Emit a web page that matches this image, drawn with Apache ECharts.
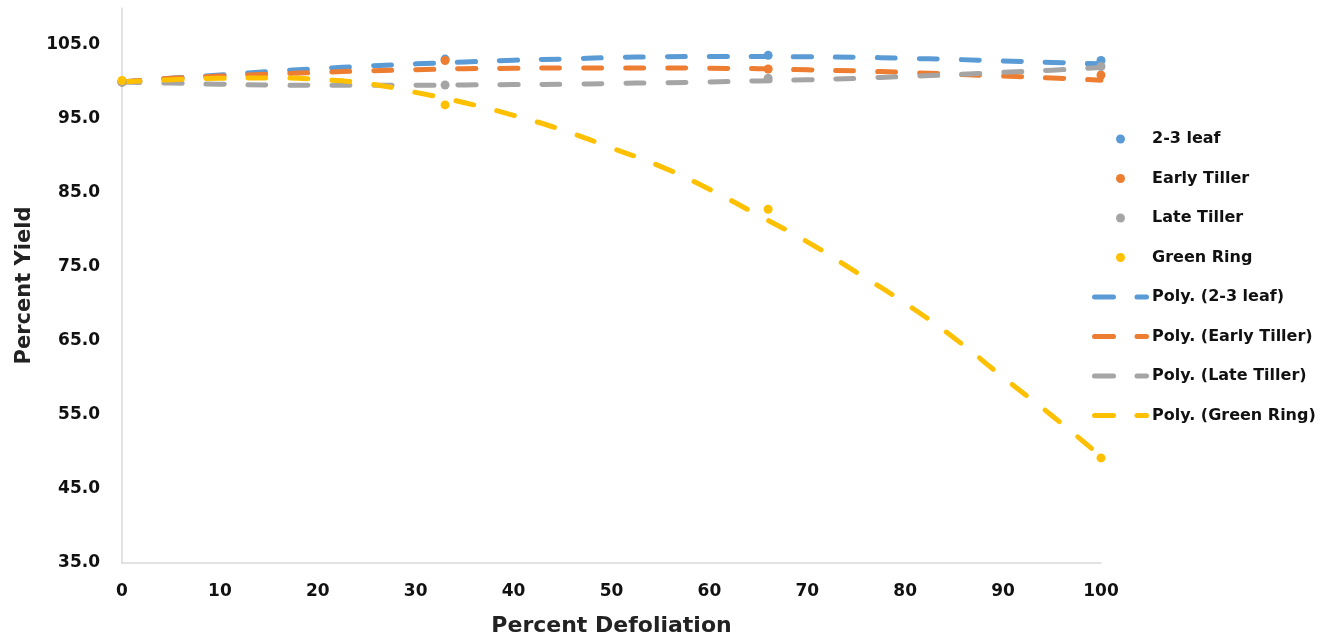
<!DOCTYPE html>
<html>
<head>
<meta charset="utf-8">
<script src="https://cdn.jsdelivr.net/npm/echarts@6/dist/echarts.min.js"></script>
<style>
html,body{margin:0;padding:0;background:#fff;}
#chart{width:1327px;height:641px;}
</style>
</head>
<body>
<div id="chart"></div>
<script>
// Observed data points (x = percent defoliation)
const pointX = [0, 33, 66, 100];
const leafPts = [100.0, 103.1, 103.6, 102.9];
const earlyPts = [100.0, 102.9, 101.75, 100.95];
const latePts = [100.0, 99.6, 100.5, 102.1];
const greenPts = [100.2, 96.9, 82.8, 49.2];

// Trendline values
const trendX = [0,5,10,15,20,25,30,35,40,45,50,55,60,65,70,75,80,85,90,95,100];
const leafTrend = [100.0,100.5,100.95,101.4,101.8,102.15,102.45,102.7,102.95,103.1,103.3,103.4,103.45,103.45,103.4,103.35,103.2,103.05,102.85,102.65,102.45];
const earlyTrend = [100.0,100.5,100.8,101.05,101.3,101.5,101.65,101.8,101.85,101.9,101.9,101.9,101.85,101.8,101.65,101.5,101.3,101.05,100.8,100.55,100.25];
const lateTrend = [100.0,99.85,99.7,99.6,99.55,99.55,99.55,99.6,99.65,99.7,99.8,99.9,100.0,100.15,100.3,100.5,100.75,101.0,101.3,101.6,101.95];
const greenTrend = [100.0,100.3,100.5,100.55,100.35,99.8,98.6,97.2,95.5,93.5,91.1,88.6,85.5,82.0,78.4,74.3,70.1,65.4,60.1,54.9,49.4];

const names = ['2-3 leaf','Early Tiller','Late Tiller','Green Ring'];
const colors = ['#5B9BD5','#ED7D31','#A5A5A5','#FFC000'];
const pts = [leafPts, earlyPts, latePts, greenPts];
const trends = [leafTrend, earlyTrend, lateTrend, greenTrend];

const FONT = 'DejaVu Sans';
const DASH_ICON = 'path://M2.5,0 h19 a2.5,2.5 0 0 1 0,5 h-19 a2.5,2.5 0 0 1 0,-5 z M45,0 h9.5 a2.5,2.5 0 0 1 0,5 h-9.5 a2.5,2.5 0 0 1 0,-5 z';

const series = [];
for (let i = 0; i < 4; i++) {
  series.push({
    name: 'Poly. (' + names[i] + ')',
    type: 'line',
    data: trendX.map((x, k) => [x, trends[i][k]]),
    symbol: 'none',
    smooth: true,
    z: 2 + i,
    lineStyle: {color: colors[i], width: 5, type: [18, 24], cap: 'round', join: 'round'},
    itemStyle: {color: colors[i]},
    silent: true
  });
}
for (let i = 0; i < 4; i++) {
  series.push({
    name: names[i],
    type: 'scatter',
    data: pointX.map((x, k) => [x, pts[i][k]]),
    symbol: 'circle',
    symbolSize: 9,
    z: 10 + i,
    itemStyle: {color: colors[i], opacity: 1}
  });
}

const legendData = names.map((n, i) => ({name: n, icon: 'circle', itemStyle: {color: colors[i], opacity: 1}}))
  .concat(names.map((n, i) => ({
    name: 'Poly. (' + n + ')',
    icon: DASH_ICON,
    itemStyle: {color: colors[i], borderWidth: 0, opacity: 1}
  })));

const chart = echarts.init(document.getElementById('chart'));
chart.setOption({
  animation: false,
  backgroundColor: '#ffffff',
  grid: {left: 122, right: 226, top: 8, bottom: 78, containLabel: false, outerBoundsMode: 'none'},
  xAxis: {
    type: 'value', min: 0, max: 100, interval: 10,
    name: 'Percent Defoliation', nameLocation: 'middle', nameGap: 52,
    nameTextStyle: {fontFamily: FONT, fontWeight: 'bold', fontSize: 22, color: '#222'},
    axisLine: {show: true, lineStyle: {color: '#d9d9d9', width: 1.5}},
    axisTick: {show: false},
    splitLine: {show: false},
    axisLabel: {fontFamily: FONT, fontWeight: 'bold', fontSize: 17, color: '#111', margin: 20}
  },
  yAxis: {
    type: 'value', min: 35, max: 110, interval: 10,
    name: 'Percent Yield', nameLocation: 'middle', nameGap: 80, nameRotate: 90,
    nameTextStyle: {fontFamily: FONT, fontWeight: 'bold', fontSize: 21, color: '#222'},
    axisLine: {show: true, lineStyle: {color: '#d9d9d9', width: 1.5}},
    axisTick: {show: false},
    splitLine: {show: false},
    axisLabel: {
      fontFamily: FONT, fontWeight: 'bold', fontSize: 17, color: '#111', margin: 22,
      formatter: v => (v > 105.5 ? '' : v.toFixed(1))
    }
  },
  legend: {
    orient: 'vertical', left: 1087, top: 124,
    itemWidth: 57, itemHeight: 9, itemGap: 19.5,
    data: legendData,
    textStyle: {fontFamily: FONT, fontWeight: 'bold', fontSize: 16, color: '#111', lineHeight: 20, padding: [0,0,0,-2]},
    selectedMode: false
  },
  series: series
});
</script>
</body>
</html>
